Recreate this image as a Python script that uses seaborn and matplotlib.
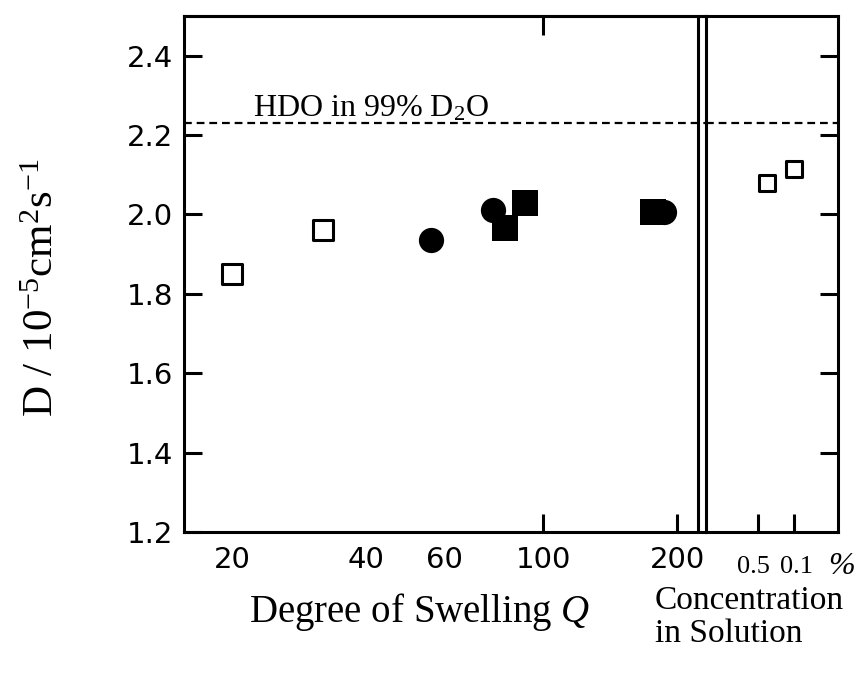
import matplotlib
matplotlib.use("Agg")
import matplotlib.pyplot as plt
import seaborn as sns
from matplotlib.ticker import NullLocator

# Self-diffusion coefficient of HDO (10^-5 cm^2 s^-1) in swollen gels and in solution
q_open = [20, 32]
d_open = [1.85, 1.96]
q_circle = [56, 77, 187]
d_circle = [1.935, 2.01, 2.005]
q_square = [82, 91, 176]
d_square = [1.965, 2.03, 2.005]

conc_solution = [0.33, 0.1]          # polymer concentration, %
d_solution = [2.08, 2.115]

d_hdo = 2.23                          # HDO in 99% D2O
q_break = 223                         # axis break between gel and solution panels

q_major_ticks = [100, 200]
q_label_ticks = [20, 40, 60]
conc_ticks = [0.5, 0.1]
y_ticks = [1.2, 1.4, 1.6, 1.8, 2.0, 2.2, 2.4]

sns.set_style("ticks")
plt.rcParams["font.family"] = ["DejaVu Sans"]
plt.rcParams["mathtext.fontset"] = "custom"
plt.rcParams["mathtext.rm"] = "Liberation Serif"
plt.rcParams["mathtext.it"] = "Liberation Serif:italic"

W, H = 865, 686
fig = plt.figure(figsize=(W / 100, H / 100), dpi=100)
bottom, top = 532, 16
ax = fig.add_axes([184 / W, 1 - bottom / H, (706 - 184) / W, (bottom - top) / H])
ax2 = fig.add_axes([706 / W, 1 - bottom / H, (838 - 706) / W, (bottom - top) / H])
ax2.patch.set_visible(False)

lw = 2.2
for a in (ax, ax2):
    for sp in a.spines.values():
        sp.set_linewidth(lw)
        sp.set_color("black")
ax2.spines["left"].set_visible(False)

# gel points
sns.scatterplot(x=q_open, y=d_open, marker="s", s=210, color="white",
                edgecolor="black", linewidth=2.2, ax=ax, zorder=3)
sns.scatterplot(x=q_square, y=d_square, marker="s", s=330, color="black",
                linewidth=0, ax=ax, zorder=3)
sns.scatterplot(x=q_circle, y=d_circle, marker="o", s=330, color="black",
                linewidth=0, ax=ax, zorder=3)
# solution points
sns.scatterplot(x=conc_solution, y=d_solution, marker="s", s=120, color="white",
                edgecolor="black", linewidth=2.2, ax=ax2, zorder=3)

# reference level
for a in (ax, ax2):
    a.axhline(d_hdo, color="black", lw=1.6, linestyle=(0, (3.5, 2.2)), zorder=1)
ax.axvline(q_break, color="black", lw=lw, zorder=4)

ax.text(22.3, d_hdo + 0.018, r"HDO in 99% D$_{2}$O", family="Liberation Serif",
        fontsize=23, ha="left", va="baseline", color="black")

# gel panel axes
ax.set_xscale("log")
ax.set_xlim(15.6, 232)
ax.set_ylim(1.2, 2.5)
ax.set_xticks(q_major_ticks, labels=[str(v) for v in q_major_ticks])
ax.set_xticks(q_label_ticks, labels=[str(v) for v in q_label_ticks], minor=True)
ax.set_yticks(y_ticks, labels=[f"{v:.1f}" for v in y_ticks])
ax.tick_params(axis="x", which="major", direction="in", length=13, width=lw,
               labelsize=21, pad=10, color="black", labelcolor="black")
ax.tick_params(axis="x", which="minor", length=0, labelsize=21, pad=10,
               labelcolor="black")
ax.tick_params(axis="y", direction="in", length=13, width=lw, labelsize=21,
               pad=8, color="black", labelcolor="black")
for t in ax.get_xticklabels(minor=True) + ax.get_xticklabels() + ax.get_yticklabels():
    t.set_fontfamily("DejaVu Sans")

sec = ax.secondary_xaxis("top")
sec.set_xticks([100], labels=[""])
sec.xaxis.set_minor_locator(NullLocator())
sec.tick_params(direction="in", length=14, width=lw, color="black")
sec.spines["top"].set_linewidth(lw)

# solution panel axes
ax2.set_xscale("log")
ax2.set_xlim(5.12, 0.014)
ax2.set_ylim(1.2, 2.5)
ax2.set_xticks(conc_ticks, labels=["" for _ in conc_ticks])
ax2.xaxis.set_minor_locator(NullLocator())
ax2.set_yticks(y_ticks[1:])
ax2.tick_params(axis="y", left=False, labelleft=False, right=True,
                direction="in", length=13, width=lw, color="black")
ax2.tick_params(axis="x", which="major", direction="in", length=13, width=lw,
                color="black")
xt = ax2.get_xaxis_transform()
for c, dx in zip(conc_ticks, [-5, 2]):
    ax2.annotate(f"{c}", xy=(c, -0.068), xycoords=xt, xytext=(dx, 0),
                 textcoords="offset pixels", family="Liberation Serif",
                 fontsize=19, ha="center", va="center", color="black")
ax2.text(1.03, -0.066, "%", transform=ax2.transAxes, family="Liberation Serif",
         fontsize=23, style="italic", ha="center", va="center", color="black")

# axis titles
fig.text(43 / W, 1 - 288 / H, r"D / 10$^{-5}$cm$^{2}$s$^{-1}$", rotation=90,
         family="Liberation Serif", fontsize=31, ha="center", va="center",
         color="black")
fig.text(420 / W, 1 - 612 / H, r"Degree of Swelling $Q$", family="Liberation Serif",
         fontsize=28, ha="center", va="center", color="black")
fig.text(655 / W, 1 - 617 / H, "Concentration\nin Solution", family="Liberation Serif",
         fontsize=24, ha="left", va="center", linespacing=1.1, color="black")

fig.savefig("out.png", dpi=100, facecolor="white")
